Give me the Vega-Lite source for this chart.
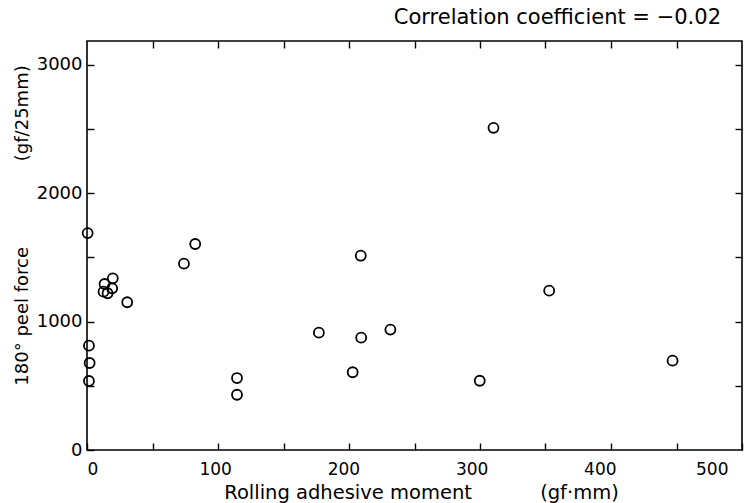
{
  "$schema": "https://vega.github.io/schema/vega-lite/v6.json",
  "width": 655,
  "height": 409,
  "autosize": {"type": "none"},
  "padding": {"left": 87, "top": 41, "right": 10, "bottom": 53},
  "background": "white",
  "title": {
    "text": "Correlation coefficient = −0.02",
    "anchor": "end",
    "frame": "group",
    "font": "DejaVu Sans",
    "fontSize": 21,
    "fontWeight": "normal",
    "color": "black",
    "baseline": "alphabetic",
    "offset": 14,
    "dy": 19,
    "dx": -21
  },
  "config": {
    "view": {"stroke": "black", "strokeWidth": 1.6},
    "axis": {
      "domain": false,
      "grid": false,
      "tickColor": "black",
      "tickWidth": 1.4,
      "labelFont": "DejaVu Sans",
      "labelColor": "black",
      "titleFont": "DejaVu Sans",
      "titleColor": "black",
      "titleFontWeight": "normal"
    }
  },
  "data": {
    "values": [
      {"moment": 0.5, "force": 1688},
      {"moment": 1.5, "force": 812},
      {"moment": 2, "force": 677},
      {"moment": 1.5, "force": 537},
      {"moment": 19.7, "force": 1336},
      {"moment": 13.4, "force": 1292},
      {"moment": 19.2, "force": 1258},
      {"moment": 12.6, "force": 1232},
      {"moment": 15.7, "force": 1220},
      {"moment": 30.7, "force": 1150},
      {"moment": 74, "force": 1450},
      {"moment": 82.6, "force": 1603},
      {"moment": 114.5, "force": 560},
      {"moment": 114.5, "force": 430},
      {"moment": 177, "force": 913},
      {"moment": 202.8, "force": 605},
      {"moment": 209, "force": 1512},
      {"moment": 209.3, "force": 874},
      {"moment": 231.6, "force": 937},
      {"moment": 299.8, "force": 539},
      {"moment": 310.3, "force": 2507},
      {"moment": 352.8, "force": 1240},
      {"moment": 447, "force": 695}
    ]
  },
  "layer": [
    {
      "mark": {"type": "point", "shape": "circle", "filled": false, "color": "black", "size": 100, "strokeWidth": 1.8, "opacity": 1},
      "encoding": {
        "x": {
          "field": "moment", "type": "quantitative",
          "scale": {"domain": [0, 500], "nice": false, "zero": false},
          "axis": {
            "orient": "bottom",
            "values": [0, 50, 100, 150, 200, 250, 300, 350, 400, 450, 500],
            "labelExpr": "datum.value % 100 == 0 ? datum.label : ''",
            "offset": -7,
            "tickSize": 7,
            "labelPadding": 11,
            "labelFontSize": 17,
            "labelOffset": {"expr": "-datum.value * 0.028"},
            "title": "Rolling adhesive moment\u00a0\u00a0\u00a0\u00a0\u00a0\u00a0\u00a0\u00a0\u00a0\u00a0\u00a0(gf·mm)",
            "titleFontSize": 19.5,
            "titleX": 334,
            "titleY": 55,
            "titleAlign": "center",
            "titleBaseline": "alphabetic"
          }
        },
        "y": {
          "field": "force", "type": "quantitative",
          "scale": {"domain": [0, 3183], "nice": false, "zero": false},
          "axis": {
            "orient": "left",
            "values": [0, 500, 1000, 1500, 2000, 2500, 3000],
            "labelExpr": "datum.value % 1000 == 0 ? datum.label : ''",
            "format": "d",
            "offset": -7,
            "tickSize": 7,
            "labelPadding": 5,
            "labelFontSize": 18,
            "title": "180° peel force\u00a0\u00a0\u00a0\u00a0\u00a0\u00a0\u00a0\u00a0\u00a0\u00a0\u00a0\u00a0\u00a0\u00a0\u00a0(gf/25mm)",
            "titleFontSize": 18,
            "titleX": -72,
            "titleY": 184,
            "titleAlign": "center",
            "titleBaseline": "middle"
          }
        }
      }
    },
    {
      "mark": {"type": "point", "opacity": 0},
      "encoding": {
        "x": {
          "field": "moment", "type": "quantitative",
          "axis": {
            "orient": "top",
            "values": [50, 100, 150, 200, 250, 300, 350, 400, 450],
            "labels": false,
            "offset": -7,
            "tickSize": 7,
            "title": null
          }
        },
        "y": {
          "field": "force", "type": "quantitative",
          "axis": {
            "orient": "right",
            "values": [500, 1000, 1500, 2000, 2500, 3000],
            "labels": false,
            "offset": -7,
            "tickSize": 7,
            "title": null
          }
        }
      }
    }
  ],
  "resolve": {"axis": {"x": "independent", "y": "independent"}}
}
